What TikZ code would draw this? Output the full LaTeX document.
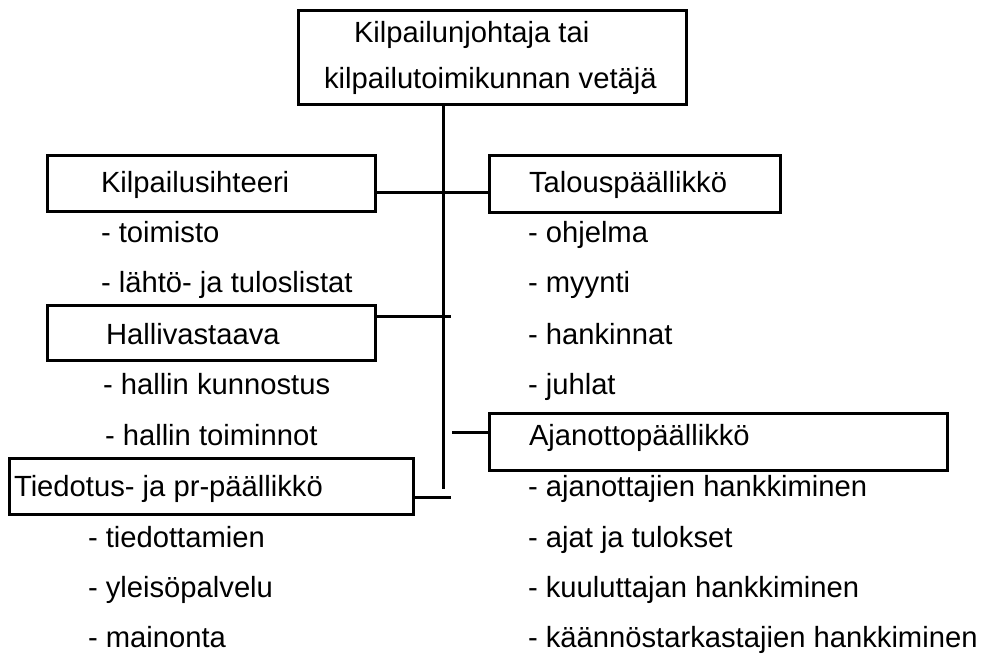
\documentclass[tikz,border=0pt]{standalone}
\usepackage{fontspec}
\setmainfont{Liberation Sans}
\begin{document}
\begin{tikzpicture}[x=1pt,y=-1pt,
  box/.style={draw, line width=3pt, inner sep=0pt, outer sep=0pt},
  txt/.style={inner sep=0pt, outer sep=0pt, anchor=base west, font=\fontsize{29.2}{34}\selectfont},
  conn/.style={line width=3pt, line cap=butt}]
\useasboundingbox (0,0) rectangle (983,655);
% boxes
\node[box, minimum width=388pt, minimum height=94pt] (top) at (492,58) {};
\node[box, minimum width=328pt, minimum height=56pt] (ks) at (211,184) {};
\node[box, minimum width=291pt, minimum height=57pt] (tp) at (634.5,184.5) {};
\node[box, minimum width=328pt, minimum height=55pt] (hv) at (211,332.5) {};
\node[box, minimum width=458pt, minimum height=57pt] (ap) at (718,441.5) {};
\node[box, minimum width=404pt, minimum height=56pt] (tpr) at (211,486) {};
% texts
\node[txt] (t1) at (354,43) {Kilpailunjohtaja tai};
\node[txt] (t2) at (324,89) {kilpailutoimikunnan vetäjä};
\node[txt] (l1) at (101,193) {Kilpailusihteeri};
\node[txt] (l2) at (101,243) {- toimisto};
\node[txt] (l3) at (101,293) {- lähtö- ja tuloslistat};
\node[txt] (l4) at (106,344) {Hallivastaava};
\node[txt] (l5) at (103,394) {- hallin kunnostus};
\node[txt] (l6) at (105,445) {- hallin toiminnot};
\node[txt] (l7) at (14,496) {Tiedotus- ja pr-päällikkö};
\node[txt] (l8) at (88,547) {- tiedottamien};
\node[txt] (l9) at (88,597) {- yleisöpalvelu};
\node[txt] (l10) at (88,647) {- mainonta};
\node[txt] (r1) at (529,193) {Talouspäällikkö};
\node[txt] (r2) at (528,243) {- ohjelma};
\node[txt] (r3) at (528,293) {- myynti};
\node[txt] (r4) at (528,344) {- hankinnat};
\node[txt] (r5) at (528,394) {- juhlat};
\node[txt] (r6) at (529,445) {Ajanottopäällikkö};
\node[txt] (r7) at (528,496) {- ajanottajien hankkiminen};
\node[txt] (r8) at (528,547) {- ajat ja tulokset};
\node[txt] (r9) at (528,597) {- kuuluttajan hankkiminen};
\node[txt] (r10) at (528,647) {- käännöstarkastajien hankkiminen};
% connector coordinates
\coordinate (spine) at (443,0);
\coordinate (spineEnd) at (443,489);
\coordinate (y1) at (0,193);
\coordinate (hvEnd) at (451,316);
\coordinate (apStart) at (452,432);
\coordinate (tprEnd) at (451,497);
% connectors
\draw[conn] (top.south -| spine) -- (spineEnd);
\draw[conn] (ks.east |- y1) -- (tp.west |- y1);
\draw[conn] (hv.east |- hvEnd) -- (hvEnd);
\draw[conn] (apStart) -- (ap.west |- apStart);
\draw[conn] (tpr.east |- tprEnd) -- (tprEnd);
\end{tikzpicture}
\end{document}
